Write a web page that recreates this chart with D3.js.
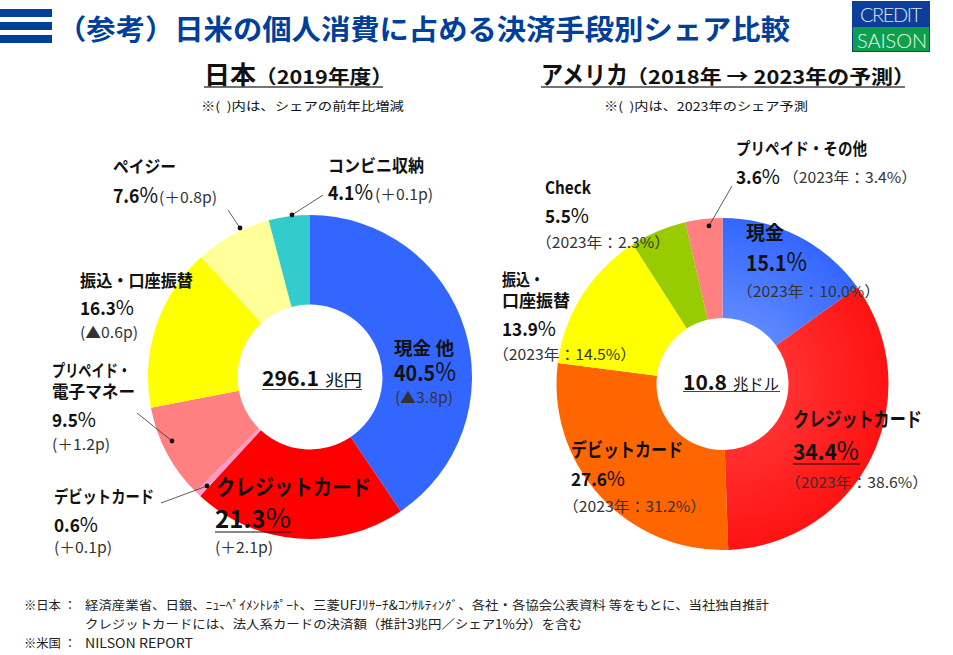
<!DOCTYPE html>
<html>
<head>
<meta charset="utf-8">
<script src="https://cdn.jsdelivr.net/npm/d3@7"></script>
<style>
  html, body { margin: 0; padding: 0; background: #fff; }
  text { font-family: "Noto Sans CJK JP", "Noto Sans", sans-serif; fill: #111; white-space: pre; }
</style>
</head>
<body>
<svg id="chart" width="953" height="655"></svg>
<script>
const jpCategories = ["現金 他", "クレジットカード", "デビットカード", "プリペイド・電子マネー", "振込・口座振替", "ペイジー", "コンビニ収納"];
const jpShares = [40.5, 21.3, 0.6, 9.5, 16.3, 7.6, 4.1];
const jpColors = ["#3366ff", "#ff0000", "#ff99cc", "#ff8080", "#ffff00", "#ffff99", "#33cccc"];

const usCategories = ["現金", "クレジットカード", "デビットカード", "振込・口座振替", "Check", "プリペイド・その他"];
const usShares = [15.1, 34.4, 27.6, 13.9, 5.5, 3.6];
const usForecast = [10.0, 38.6, 31.2, 14.5, 2.3, 3.4];
const usColors = ["url(#usBlue)", "url(#usRed)", "#ff6600", "#ffff00", "#99cc00", "#ff8080"];

const svg = d3.select("#chart");
const defs = svg.append("defs");

// gradients sit in the donut group's coordinates, centred on the hole
const addGrad = (id, from, to) => {
  const g = defs.append("radialGradient").attr("id", id)
    .attr("gradientUnits", "userSpaceOnUse")
    .attr("cx", 0).attr("cy", 0).attr("r", 166);
  g.append("stop").attr("offset", "0.4").attr("stop-color", from);
  g.append("stop").attr("offset", "1").attr("stop-color", to);
};
addGrad("usBlue", "#5c88ff", "#3366ff");
addGrad("usRed", "#ff3030", "#ff1212");

// header
const blue = "#003f9a";
svg.selectAll("rect.bar").data([9, 22, 35]).join("rect")
  .attr("class", "bar")
  .attr("x", 0).attr("y", d => d)
  .attr("width", 52).attr("height", 8).attr("fill", blue);

const txt = (x, y, s, size, opts = {}) => {
  const t = svg.append("text").attr("x", x).attr("y", y)
    .attr("font-size", size)
    .attr("font-weight", opts.bold ? 700 : (opts.weight || 400))
    .style("fill", opts.fill || "#111")
    .text(s);
  if (opts.family) t.style("font-family", opts.family);
  if (opts.len) t.attr("textLength", opts.len).attr("lengthAdjust", opts.adjust || "spacingAndGlyphs");
  return t;
};

txt(57, 40, "（参考）日米の個人消費に占める決済手段別シェア比較", 28, { bold: true, fill: blue, len: 733 });

// logo
svg.append("rect").attr("x", 852).attr("y", 1).attr("width", 78).attr("height", 51).attr("fill", "#0c3f9a");
svg.append("rect").attr("x", 853).attr("y", 27).attr("width", 76).attr("height", 24).attr("fill", "#0c9f4c");
const logoFont = "Lato, 'Open Sans', sans-serif";
txt(860, 22, "CREDIT", 20, { fill: "#dfe8f7", weight: 300, family: logoFont, len: 62, adjust: "spacing" });
txt(857, 48, "SAISON", 20, { fill: "#eef8f0", weight: 300, family: logoFont, len: 70, adjust: "spacing" });

// chart titles
txt(204, 84, "日本", 25, { bold: true, len: 52 });
txt(255, 84, "（2019年度）", 19, { bold: true, len: 138 });
svg.append("line").attr("x1", 204).attr("x2", 383).attr("y1", 87).attr("y2", 87).attr("stroke", "#444").attr("stroke-width", 1.6);
txt(201, 111, "※(\u00a0\u00a0)内は、シェアの前年比増減", 12, { len: 203 });

txt(541, 84, "アメリカ", 25, { bold: true, len: 87 });
txt(626, 84, "（2018年 → 2023年の予測）", 19, { bold: true, len: 289 });
svg.append("line").attr("x1", 541).attr("x2", 905).attr("y1", 87).attr("y2", 87).attr("stroke", "#444").attr("stroke-width", 1.6);
txt(604, 111, "※(\u00a0\u00a0)内は、2023年のシェア予測", 12, { len: 204 });

// donuts
const pie = d3.pie().sort(null);
const drawDonut = (cx, cy, inner, outer, shares, colors) => {
  const arc = d3.arc().innerRadius(inner).outerRadius(outer);
  svg.append("g").attr("transform", `translate(${cx},${cy})`)
    .selectAll("path").data(pie(shares)).join("path")
    .attr("d", arc)
    .attr("fill", (d, i) => colors[i]);
};
drawDonut(310, 377, 72.5, 162, jpShares, jpColors);
drawDonut(722.5, 384, 66, 166, usShares, usColors);

// leader lines with a dot on the slice
const leaders = [
  [228, 210, 240, 228],
  [323, 195, 292, 215],
  [137, 413, 172, 441],
  [161, 503, 207, 486],
  [732, 186, 709, 226],
];
leaders.forEach(([x1, y1, x2, y2]) => {
  svg.append("line").attr("x1", x1).attr("y1", y1).attr("x2", x2).attr("y2", y2)
    .attr("stroke", "#333").attr("stroke-width", 0.8);
  svg.append("circle").attr("cx", x2).attr("cy", y2).attr("r", 2.4).attr("fill", "#111");
});

// slice labels: name line(s), share, note
const labelLine = (x, y, name, w, s) => txt(x, y, name, s || 17, { bold: true, len: w });
const pct = (x, y, value, size, w) => {
  const t = txt(x, y, "", size, { bold: true });
  t.append("tspan").text(value.toFixed(1));
  t.append("tspan").attr("font-weight", 400).attr("font-size", size * 1.15).text("%");
  if (w) t.attr("textLength", w).attr("lengthAdjust", "spacingAndGlyphs");
  return t;
};
const note = (x, y, s, w) => txt(x, y, s, 15, { fill: "#333", len: w });
const forecast = v => `（2023年：${v.toFixed(1)}%）`;

// Japan
labelLine(113, 173, "ペイジー", 63);
pct(113, 203, jpShares[5], 19, 45);
note(159, 203, "(＋0.8p)", 58);

labelLine(328, 172, "コンビニ収納", 96);
pct(328, 200, jpShares[6], 19, 45);
note(375, 200, "(＋0.1p)", 58);

labelLine(80, 287, "振込・口座振替", 113);
pct(80, 315, jpShares[4], 18, 54);
note(80, 338, "(▲0.6p)", 58);

labelLine(52, 377, "プリペイド・", 79);
labelLine(52, 398, "電子マネー", 83);
pct(52, 427, jpShares[3], 18, 44);
note(52, 450, "(＋1.2p)", 58);

labelLine(54, 503, "デビットカード", 100);
pct(54, 532, jpShares[2], 18, 44);
note(54, 553, "(＋0.1p)", 58);

labelLine(216, 495, "クレジットカード", 155, 22);
pct(215, 528, jpShares[1], 24, 76);
svg.append("line").attr("x1", 215).attr("x2", 291).attr("y1", 532).attr("y2", 532).attr("stroke", "#111").attr("stroke-width", 1.2);
note(215, 553, "(＋2.1p)", 58);

labelLine(394, 355, "現金 他", 60, 18);
pct(394, 381, jpShares[0], 22, 62);
note(395, 403, "(▲3.8p)", 58);

txt(262, 386, "296.1", 21, { bold: true, len: 57 });
txt(325, 386, "兆円", 16, { len: 37 });
svg.append("line").attr("x1", 262).attr("x2", 362).attr("y1", 389.5).attr("y2", 389.5).attr("stroke", "#444").attr("stroke-width", 1.2);

// US
labelLine(736, 155, "プリペイド・その他", 131);
pct(736, 184, usShares[5], 18, 44);
note(783, 183, forecast(usForecast[5]), 134);

labelLine(545, 194, "Check", 46);
pct(545, 223, usShares[4], 18, 44);
note(536, 248, forecast(usForecast[4]), 134);

labelLine(502, 286, "振込・", 42);
labelLine(502, 307, "口座振替", 68);
pct(502, 336, usShares[3], 18, 54);
note(493, 360, forecast(usForecast[3]), 143);

labelLine(746, 240, "現金", 38, 19);
pct(746, 271, usShares[0], 22, 61);
note(737, 297, forecast(usForecast[0]), 143);

labelLine(793, 427, "クレジットカード", 129, 20);
pct(793, 460, usShares[1], 22, 66);
svg.append("line").attr("x1", 793).attr("x2", 860).attr("y1", 464).attr("y2", 464).attr("stroke", "#111").attr("stroke-width", 1.2);
note(785, 488, forecast(usForecast[1]), 143);

labelLine(571, 457, "デビットカード", 112, 19);
pct(571, 486, usShares[2], 18, 54);
note(563, 512, forecast(usForecast[2]), 143);

txt(683, 390, "10.8", 21, { bold: true, len: 44 });
txt(733, 390, "兆ドル", 16, { len: 46 });
svg.append("line").attr("x1", 683).attr("x2", 780).attr("y1", 391.5).attr("y2", 391.5).attr("stroke", "#444").attr("stroke-width", 1.2);

// footnotes
const foot = (x, y, s, w) => txt(x, y, s, 12.5, { fill: "#222", len: w });
foot(24, 610, "※日本 ：", 52);
foot(85, 610, "経済産業省、日銀、ﾆｭｰﾍﾟｲﾒﾝﾄﾚﾎﾟｰﾄ、三菱UFJﾘｻｰﾁ&ｺﾝｻﾙﾃｨﾝｸﾞ、各社・各協会公表資料 等をもとに、当社独自推計", 684);
foot(85, 629, "クレジットカードには、法人系カードの決済額（推計3兆円／シェア1%分）を含む", 497);
foot(24, 648, "※米国 ：", 52);
foot(85, 648, "NILSON REPORT", 108);
</script>
</body>
</html>
